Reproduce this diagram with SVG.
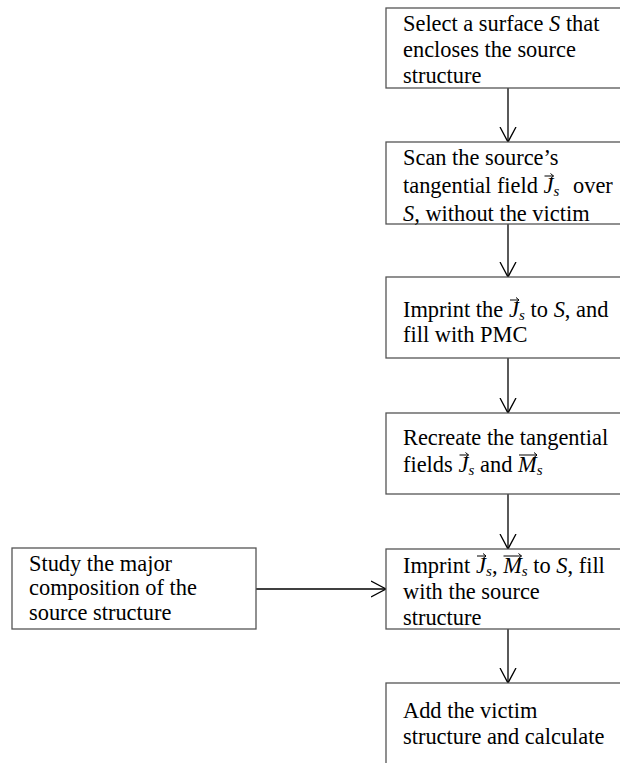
<svg xmlns="http://www.w3.org/2000/svg" width="620" height="763" viewBox="0 0 620 763">
<style>
.box{fill:#fff;stroke:#555;stroke-width:1.3}
.t{font-family:"Liberation Serif","Times New Roman",serif;font-size:22.4px;fill:#000}
.i{font-style:italic}
.sub{font-size:15px;font-style:italic}
.conn{stroke:#000;stroke-width:1.3;fill:none}
.vec{stroke:#000;stroke-width:1;fill:none}
</style>
<defs>
<marker id="ah" markerUnits="userSpaceOnUse" markerWidth="18" markerHeight="20" refX="15" refY="9" orient="auto">
<path d="M0,1 L15,9 L0,17" fill="none" stroke="#000" stroke-width="1.3"/>
</marker>
</defs>
<rect width="620" height="763" fill="#fff"/>
<g id="connectors">
<line class="conn" x1="508" y1="88" x2="508" y2="142" marker-end="url(#ah)"/>
<line class="conn" x1="508" y1="224" x2="508" y2="277" marker-end="url(#ah)"/>
<line class="conn" x1="508" y1="358" x2="508" y2="413" marker-end="url(#ah)"/>
<line class="conn" x1="508" y1="494" x2="508" y2="549" marker-end="url(#ah)"/>
<line class="conn" x1="508" y1="629" x2="508" y2="683" marker-end="url(#ah)"/>
<line class="conn" x1="256" y1="589" x2="386" y2="589" marker-end="url(#ah)"/>
</g>
<g id="n1">
<rect class="box" x="386" y="8" width="250" height="80"/>
<text class="t" x="403" y="30.5">Select a surface <tspan class="i">S</tspan> that</text>
<text class="t" x="403" y="56.5">encloses the source</text>
<text class="t" x="403" y="82.5">structure</text>
</g>
<g id="n2">
<rect class="box" x="386" y="142" width="250" height="82"/>
<text class="t" x="403" y="164.5">Scan the source’s</text>
<text class="t" x="403" y="193">tangential field <tspan class="i" x="543.5">J</tspan><tspan class="sub" x="553.5" dy="3">s</tspan><tspan x="573" dy="-3">over</tspan></text>
<path class="vec" d="M544.5,176 L553.5,176 M550.5,173.5 L553.5,176 L550.5,178.5"/>
<text class="t" x="403" y="220.5"><tspan class="i">S,</tspan> without the victim</text>
</g>
<g id="n3">
<rect class="box" x="386" y="277" width="250" height="81"/>
<text class="t" x="403" y="316.5">Imprint the <tspan class="i" x="509">J</tspan><tspan class="sub" x="519" dy="3">s</tspan><tspan x="525" dy="-3"> to </tspan><tspan class="i">S</tspan>, and</text>
<path class="vec" d="M510,300 L519,300 M516,297.5 L519,300 L516,302.5"/>
<text class="t" x="403" y="341.5">fill with PMC</text>
</g>
<g id="n4">
<rect class="box" x="386" y="413" width="250" height="81"/>
<text class="t" x="403" y="445">Recreate the tangential</text>
<text class="t" x="403" y="471.5">fields <tspan class="i" x="458.5">J</tspan><tspan class="sub" x="468.5" dy="3">s</tspan><tspan x="474.5" dy="-3"> and </tspan><tspan class="i">M</tspan><tspan class="sub" dy="3">s</tspan></text>
<path class="vec" d="M459.5,455 L468.5,455 M465.5,452.5 L468.5,455 L465.5,457.5"/>
<path class="vec" d="M519,455 L537,455 M534,452.5 L537,455 L534,457.5"/>
</g>
<g id="n5">
<rect class="box" x="386" y="549" width="250" height="80"/>
<text class="t" x="403" y="572.5">Imprint <tspan class="i" x="476">J</tspan><tspan class="sub" x="486" dy="3">s</tspan><tspan x="492" dy="-3">, </tspan><tspan class="i">M</tspan><tspan class="sub" dy="3">s</tspan><tspan dy="-3"> to </tspan><tspan class="i">S</tspan>, fill</text>
<path class="vec" d="M477,556 L486,556 M483,553.5 L486,556 L483,558.5"/>
<path class="vec" d="M503.5,556 L521.5,556 M518.5,553.5 L521.5,556 L518.5,558.5"/>
<text class="t" x="403" y="599">with the source</text>
<text class="t" x="403" y="625">structure</text>
</g>
<g id="n6">
<rect class="box" x="386" y="683" width="250" height="100"/>
<text class="t" x="403" y="718">Add the victim</text>
<text class="t" x="403" y="744">structure and calculate</text>
</g>
<g id="n7">
<rect class="box" x="12" y="548" width="244" height="81"/>
<text class="t" x="29" y="570.5">Study the major</text>
<text class="t" x="29" y="595">composition of the</text>
<text class="t" x="29" y="619.5">source structure</text>
</g>
</svg>
